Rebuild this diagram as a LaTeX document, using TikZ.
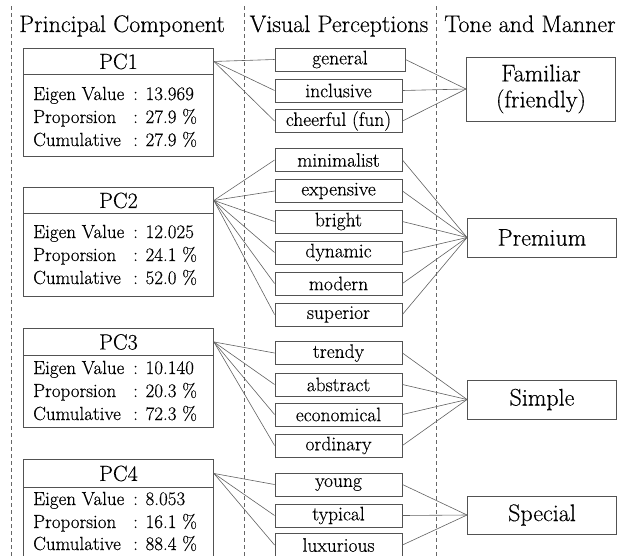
\documentclass[tikz,border=0pt]{standalone}
\usepackage{fontspec}
\setmainfont{Latin Modern Roman}[FakeBold=0.35]
\begin{document}
\begin{tikzpicture}[x=1pt,y=-1pt,
  boxline/.style={draw=black!68,line width=0.9pt},
  sep/.style={draw=black!60,dashed,dash pattern=on 4pt off 3pt,line width=0.7pt},
  head/.style={font=\fontsize{24}{26}\selectfont,anchor=base,inner sep=0pt},
  pcframe/.style={boxline,minimum width=190pt,anchor=north west,inner sep=0pt},
  pctitle/.style={boxline,minimum width=190pt,minimum height=26pt,anchor=north west,inner sep=0pt,font=\fontsize{22}{23}\selectfont},
  pcline/.style={anchor=base west,inner sep=0pt,font=\fontsize{19}{20}\selectfont},
  vp/.style={boxline,minimum width=127pt,minimum height=23pt,inner sep=0pt,font=\fontsize{19.5}{20}\selectfont},
  tm/.style={boxline,minimum width=149pt,inner sep=0pt,font=\fontsize{24}{26}\selectfont,align=center},
  link/.style={draw=black!62,line width=0.6pt}]
\useasboundingbox (0,0) rectangle (619,555);
\begin{scope}
\clip (0,0) rectangle (619,555);
% separators
\coordinate (s1a) at (11,6); \coordinate (s1b) at (11,560);
\coordinate (s2a) at (244.5,6); \coordinate (s2b) at (244.5,560);
\coordinate (s3a) at (436,6); \coordinate (s3b) at (436,560);
\draw[sep] (s1a) -- (s1b);
\draw[sep] (s2a) -- (s2b);
\draw[sep] (s3a) -- (s3b);
% headers
\node[head] (h1) at (122,32) {Principal Component};
\node[head] (h2) at (339,32) {Visual Perceptions};
\node[head] (h3) at (530,32) {Tone and Manner};
\newcommand{\pcrow}[2]{\makebox[100pt][l]{#1}: #2}
% PC1
\node[pcframe,minimum height=108pt] (pc1) at (23,48) {};
\node[pctitle] (pc1h) at (23,48) {PC1};
\node[pcline] (pc1a) at (33,100) {\pcrow{Eigen Value}{13.969}};
\node[pcline] (pc1b) at (33,123) {\pcrow{Proporsion}{27.9 \%}};
\node[pcline] (pc1c) at (33,146) {\pcrow{Cumulative}{27.9 \%}};
% PC2
\node[pcframe,minimum height=109pt] (pc2) at (23,187) {};
\node[pctitle] (pc2h) at (23,187) {PC2};
\node[pcline] (pc2a) at (33,238) {\pcrow{Eigen Value}{12.025}};
\node[pcline] (pc2b) at (33,261) {\pcrow{Proporsion}{24.1 \%}};
\node[pcline] (pc2c) at (33,284) {\pcrow{Cumulative}{52.0 \%}};
% PC3
\node[pcframe,minimum height=99pt] (pc3) at (23,328) {};
\node[pctitle,minimum height=27pt] (pc3h) at (23,328) {PC3};
\node[pcline] (pc3a) at (33,374) {\pcrow{Eigen Value}{10.140}};
\node[pcline] (pc3b) at (33,397) {\pcrow{Proporsion}{20.3 \%}};
\node[pcline] (pc3c) at (33,420) {\pcrow{Cumulative}{72.3 \%}};
% PC4
\node[pcframe,minimum height=110pt] (pc4) at (23,459) {};
\node[pctitle,minimum height=28pt] (pc4h) at (23,459) {PC4};
\node[pcline] (pc4a) at (33,505) {\pcrow{Eigen Value}{8.053}};
\node[pcline] (pc4b) at (33,528) {\pcrow{Proporsion}{16.1 \%}};
\node[pcline] (pc4c) at (33,550) {\pcrow{Cumulative}{88.4 \%}};
% visual perceptions
\node[vp,minimum width=130pt] (general) at (340,59.5) {general};
\node[vp] (inclusive) at (338.5,90.5) {inclusive};
\node[vp] (cheerful) at (338.5,121) {cheerful (fun)};
\node[vp] (minimalist) at (338.5,160) {minimalist};
\node[vp] (expensive) at (338.5,191) {expensive};
\node[vp] (bright) at (338.5,221.5) {bright};
\node[vp] (dynamic) at (338.5,252.5) {dynamic};
\node[vp] (modern) at (338.5,283.5) {modern};
\node[vp] (superior) at (338.5,314.5) {superior};
\node[vp] (trendy) at (338.5,353) {trendy};
\node[vp] (abstract) at (338.5,384.5) {abstract};
\node[vp] (economical) at (338.5,414.5) {economical};
\node[vp] (ordinary) at (338.5,445.5) {ordinary};
\node[vp] (young) at (338.5,484.5) {young};
\node[vp] (typical) at (338.5,515.5) {typical};
\node[vp] (luxurious) at (338.5,545) {luxurious};
% tone and manner
\node[tm,minimum height=64pt] (familiar) at (541,89) {Familiar\\(friendly)};
\node[tm,minimum height=39pt] (premium) at (542,237.5) {Premium};
\node[tm,minimum height=39pt] (simple) at (542,399.5) {Simple};
\node[tm,minimum height=38pt] (special) at (542,515) {Special};
% links PC -> VP
\foreach \v in {general,inclusive,cheerful} \draw[link] (pc1h.east) -- (\v.west);
\foreach \v in {minimalist,expensive,bright,dynamic,modern,superior} \draw[link] (pc2h.east) -- (\v.west);
\foreach \v in {trendy,abstract,economical,ordinary} \draw[link] (pc3h.east) -- (\v.west);
\foreach \v in {young,typical,luxurious} \draw[link] (pc4h.east) -- (\v.west);
% links VP -> TM
\foreach \v in {general,inclusive,cheerful} \draw[link] (\v.east) -- (familiar.west);
\foreach \v in {minimalist,expensive,bright,dynamic,modern,superior} \draw[link] (\v.east) -- (premium.west);
\foreach \v in {trendy,abstract,economical,ordinary} \draw[link] (\v.east) -- (simple.west);
\foreach \v in {young,typical,luxurious} \draw[link] (\v.east) -- (special.west);
\end{scope}
\end{tikzpicture}
\end{document}
